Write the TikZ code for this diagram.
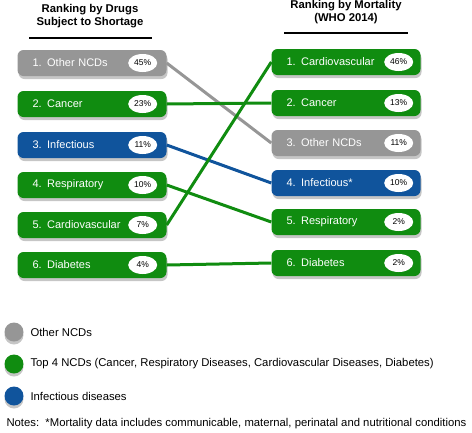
\documentclass[tikz,border=0pt]{standalone}
\usepackage{fontspec}
\setmainfont{Liberation Sans}
\usetikzlibrary{shapes.geometric,shadows}
\definecolor{ncdgray}{RGB}{150,150,150}
\definecolor{ncdgreen}{RGB}{16,140,16}
\definecolor{infblue}{RGB}{16,84,156}

\begin{document}
\begin{tikzpicture}[x=1pt,y=-1pt,
  rbox/.style={rounded corners=6pt,minimum width=149pt,minimum height=26pt,
               inner xsep=15pt,text width=119pt,align=left,text=white,
               font=\fontsize{11}{12}\selectfont,
               drop shadow={opacity=0.45,shadow xshift=1pt,shadow yshift=-3pt}},
  pct/.style={ellipse,fill=white,minimum width=29pt,minimum height=18pt,inner sep=0pt,
              font=\fontsize{8.5}{9}\selectfont},
  link/.style={line width=3pt},
  head/.style={align=center,font=\bfseries\fontsize{11.3}{13.5}\selectfont},
  dot/.style={circle,minimum size=19pt,inner sep=0pt,
              drop shadow={opacity=0.45,shadow xshift=0pt,shadow yshift=-3pt}},
  ltext/.style={anchor=west,font=\fontsize{11.3}{12}\selectfont}]
  \useasboundingbox (0,0) rectangle (472,432);

  % column headings
  \node[head] (hleft) at (90,16) {Ranking by Drugs\\Subject to Shortage};
  \node[head] (hright) at (346,12) {Ranking by Mortality\\(WHO 2014)};
  \draw[line width=1.3pt] (29,38) -- (152,38);
  \draw[line width=1.3pt] (284,33) -- (408,33);

  % drugs subject to shortage
  \node[rbox,fill=ncdgray] (l1) at (92,63) {1. Other NCDs};
  \node[rbox,fill=ncdgreen] (l2) at (92,104) {2. Cancer};
  \node[rbox,fill=infblue] (l3) at (92,145) {3. Infectious};
  \node[rbox,fill=ncdgreen] (l4) at (92,185) {4. Respiratory};
  \node[rbox,fill=ncdgreen] (l5) at (92,225) {5. Cardiovascular};
  \node[rbox,fill=ncdgreen] (l6) at (92,265) {6. Diabetes};
  \node[pct] (pl1) at ([xshift=-24pt]l1.east) {45\%};
  \node[pct] (pl2) at ([xshift=-24pt]l2.east) {23\%};
  \node[pct] (pl3) at ([xshift=-24pt]l3.east) {11\%};
  \node[pct] (pl4) at ([xshift=-24pt]l4.east) {10\%};
  \node[pct] (pl5) at ([xshift=-24pt]l5.east) {7\%};
  \node[pct] (pl6) at ([xshift=-24pt]l6.east) {4\%};

  % mortality
  \node[rbox,fill=ncdgreen] (r1) at (346,62) {1. Cardiovascular};
  \node[rbox,fill=ncdgreen] (r2) at (346,103) {2. Cancer};
  \node[rbox,fill=ncdgray] (r3) at (346,143) {3. Other NCDs};
  \node[rbox,fill=infblue] (r4) at (346,183) {4. Infectious*};
  \node[rbox,fill=ncdgreen] (r5) at (346,222) {5. Respiratory};
  \node[rbox,fill=ncdgreen] (r6) at (346,263) {6. Diabetes};
  \node[pct] (pr1) at ([xshift=-22pt]r1.east) {46\%};
  \node[pct] (pr2) at ([xshift=-22pt]r2.east) {13\%};
  \node[pct] (pr3) at ([xshift=-22pt]r3.east) {11\%};
  \node[pct] (pr4) at ([xshift=-22pt]r4.east) {10\%};
  \node[pct] (pr5) at ([xshift=-22pt]r5.east) {2\%};
  \node[pct] (pr6) at ([xshift=-22pt]r6.east) {2\%};

  % links
  \draw[link,ncdgray] (l1.east) -- (r3.west);
  \draw[link,ncdgreen] (l2.east) -- (r2.west);
  \draw[link,infblue] (l3.east) -- (r4.west);
  \draw[link,ncdgreen] (l4.east) -- (r5.west);
  \draw[link,ncdgreen] (l5.east) -- (r1.west);
  \draw[link,ncdgreen] (l6.east) -- (r6.west);

  % legend
  \node[dot,fill=ncdgray] (d1) at (14,332) {};
  \node[dot,fill=ncdgreen] (d2) at (14,364) {};
  \node[dot,fill=infblue] (d3) at (14,396) {};
  \node[ltext] (t1) at (27,332) {Other NCDs};
  \node[ltext] (t2) at (27,364) {Top 4 NCDs (Cancer, Respiratory Diseases, Cardiovascular Diseases, Diabetes)};
  \node[ltext] (t3) at (27,396) {Infectious diseases};
  \node[ltext] (notes) at (3,424) {Notes:\ \ *Mortality data includes communicable, maternal, perinatal and nutritional conditions};
\end{tikzpicture}
\end{document}
